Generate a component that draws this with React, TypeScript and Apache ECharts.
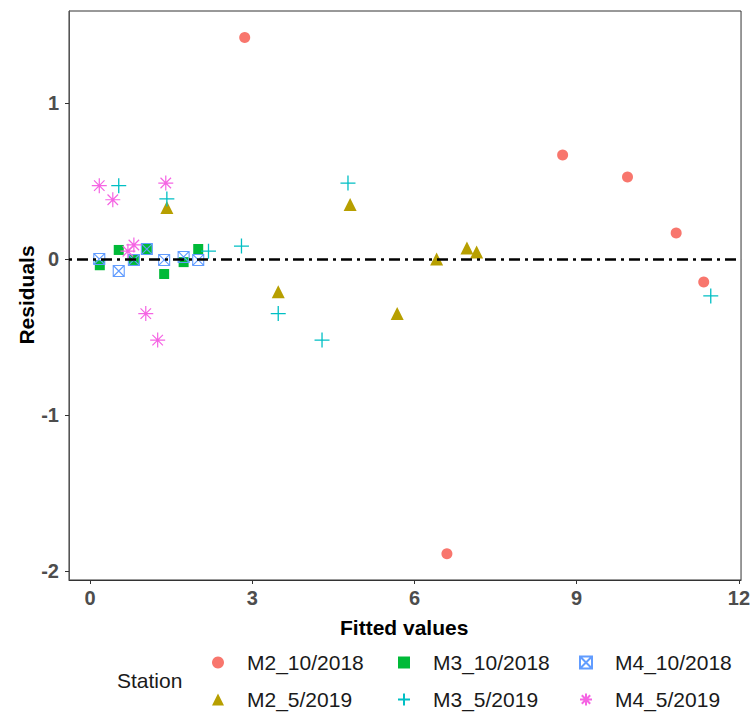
import React, { useEffect, useRef } from "react";
import * as echarts from "echarts";

// Fitted values (x) and residuals (y) per station
const m2Oct2018: [number, number][] = [
  [2.86, 1.42], [8.74, 0.667], [9.94, 0.526], [10.84, 0.167], [11.35, -0.147], [6.6, -1.89],
];
const m2May2019: [number, number][] = [
  [1.42, 0.33], [3.48, -0.21], [4.81, 0.35], [5.68, -0.35], [6.41, 0.0], [6.97, 0.07], [7.15, 0.045],
];
const m3Oct2018: [number, number][] = [
  [0.18, -0.04], [0.53, 0.058], [0.81, -0.006], [1.05, 0.064], [1.37, -0.096], [1.73, -0.02], [2.0, 0.064],
];
const m3May2019: [number, number][] = [
  [0.53, 0.47], [1.42, 0.385], [2.19, 0.05], [2.8, 0.083], [3.48, -0.35], [4.29, -0.52], [4.77, 0.487], [11.48, -0.237],
];
const m4Oct2018: [number, number][] = [
  [0.17, 0.0], [0.53, -0.077], [0.81, -0.006], [1.05, 0.064], [1.37, -0.006], [1.73, 0.013], [2.0, -0.006],
];
const m4May2019: [number, number][] = [
  [0.17, 0.47], [0.42, 0.38], [0.7, 0.05], [0.81, 0.09], [1.03, -0.35], [1.25, -0.52], [1.4, 0.487],
];

const xTicks = [0, 3, 6, 9, 12];
const yTicks = [-2, -1, 0, 1];
const refLineY = 0;

const FONT = "'Liberation Sans', Arial, sans-serif";
const PLUS = "path://M5,0L5,10M0,5L10,5";
const ASTER = "path://M5,0L5,10M0,5L10,5M1.5,1.5L8.5,8.5M1.5,8.5L8.5,1.5";
const BOXX = "path://M0,0L10,0L10,10L0,10ZM0,0L10,10M0,10L10,0";

export default function App() {
  const ref = useRef<HTMLDivElement>(null);
  useEffect(() => {
    if (!ref.current) return;
    const chart = echarts.init(ref.current, undefined, { renderer: "svg" });
    const filled = (name: string, data: any, symbol: string, size: number, color: string) => ({
      name, type: "scatter", data, symbol, symbolSize: size, z: 3,
      itemStyle: { color, opacity: 1 },
    });
    const open = (name: string, data: any, symbol: string, size: number, color: string, w: number) => ({
      name, type: "scatter", data, symbol, symbolSize: size, z: 3,
      itemStyle: { color: "rgba(0,0,0,0)", borderColor: color, borderWidth: w, opacity: 1 },
    });
    const legendBase = (left: number, names: string[]) => ({
      orient: "vertical", left, top: 652, padding: 0, itemWidth: 12, itemHeight: 12, itemGap: 16,
      selectedMode: false, data: names,
      textStyle: { fontFamily: FONT, fontSize: 21, lineHeight: 21, color: "#1a1a1a", padding: [0, 0, 0, 18] },
    });
    chart.setOption({
      animation: false,
      backgroundColor: "#fff",
      grid: { left: 69, right: 10, top: 11, bottom: 132, show: true, borderColor: "#333", borderWidth: 1 },
      xAxis: {
        type: "value", min: -0.39, max: 12.04,
        axisLine: { show: true, onZero: false, lineStyle: { color: "#333", width: 1 } },
        axisTick: { show: true, length: 4, customValues: xTicks, lineStyle: { color: "#333" } },
        axisLabel: { customValues: xTicks, margin: 8, fontFamily: FONT, fontSize: 20, fontWeight: "bold", color: "#4d4d4d" },
        splitLine: { show: false },
      },
      yAxis: {
        type: "value", min: -2.058, max: 1.59,
        axisLine: { show: true, onZero: false, lineStyle: { color: "#555", width: 1 } },
        axisTick: { show: true, length: 4, customValues: yTicks, lineStyle: { color: "#333" } },
        axisLabel: { customValues: yTicks, margin: 10, fontFamily: FONT, fontSize: 20, fontWeight: "bold", color: "#4d4d4d" },
        splitLine: { show: false },
      },
      legend: [
        legendBase(212, ["M2_10/2018", "M2_5/2019"]),
        legendBase(397, ["M3_10/2018", "M3_5/2019"]),
        legendBase(579, ["M4_10/2018", "M4_5/2019"]),
      ],
      graphic: [
        { type: "text", left: 340, top: 617, style: { text: "Fitted values", font: `bold 21px ${FONT}`, fill: "#000" } },
        { type: "text", x: 26, y: 295, rotation: Math.PI / 2, style: { text: "Residuals", font: `bold 21px ${FONT}`, fill: "#000", align: "center", verticalAlign: "middle" } },
        { type: "text", left: 117, top: 670, style: { text: "Station", font: `21px ${FONT}`, fill: "#1a1a1a" } },
      ],
      series: [
        {
          type: "scatter", data: [], z: 2, silent: true,
          markLine: {
            silent: true, symbol: ["none", "none"], label: { show: false },
            lineStyle: { color: "#000", width: 2.5, type: [3, 5, 11, 5] },
            data: [{ yAxis: refLineY }],
          },
        },
        filled("M2_10/2018", m2Oct2018, "circle", 11, "#F8766D"),
        filled("M2_5/2019", m2May2019, "triangle", 13, "#B79F00"),
        filled("M3_10/2018", m3Oct2018, "rect", 10, "#00BA38"),
        open("M3_5/2019", m3May2019, PLUS, 15, "#00BFC4", 1.3),
        open("M4_10/2018", m4Oct2018, BOXX, 11, "#619CFF", 1.1),
        open("M4_5/2019", m4May2019, ASTER, 15, "#F564E3", 1.2),
      ],
    });
    return () => chart.dispose();
  }, []);
  return <div ref={ref} style={{ position: "fixed", left: 0, top: 0, width: 753, height: 712 }} />;
}
